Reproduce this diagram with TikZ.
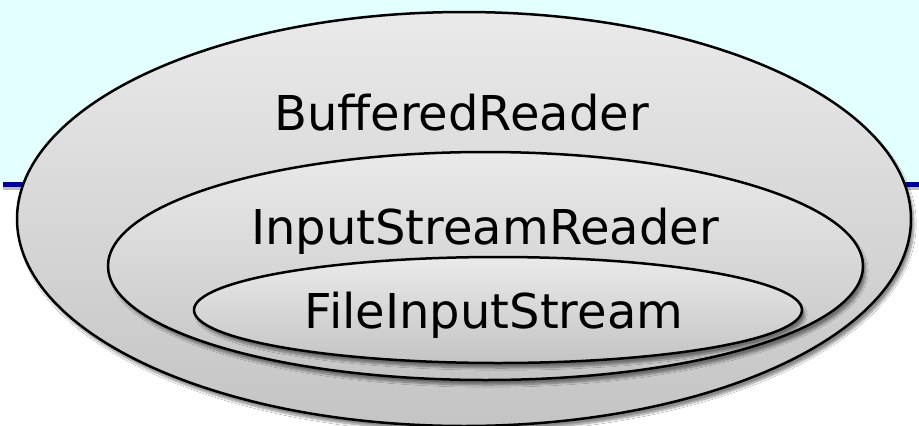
\documentclass[tikz,border=0pt]{standalone}
\usepackage{fontspec}
\setmainfont{DejaVu Sans}
\usetikzlibrary{shapes.geometric,shadows.blur}
\definecolor{bgcyan}{RGB}{228,255,255}
\definecolor{rulebl}{RGB}{0,0,150}
\definecolor{ellTop}{RGB}{234,234,234}
\definecolor{ellBot}{RGB}{196,196,196}
\tikzset{
  layer/.style={ellipse, draw=black, line width=2.5pt, inner sep=0pt,
    top color=ellTop, bottom color=ellBot,
    blur shadow={shadow xshift=3pt, shadow yshift=-5pt, shadow blur steps=8, shadow opacity=45}},
  lbl/.style={text=black, inner sep=0pt, anchor=base, font=\fontsize{48}{52}\selectfont}
}
\begin{document}
\begin{tikzpicture}[x=1pt,y=-1pt]
\useasboundingbox (0,0) rectangle (919,426);
\fill[white] (0,0) rectangle (919,426);
\fill[bgcyan] (0,0) rectangle (919,184);
\fill[black!25] (3,187) rectangle (919,190);
\fill[rulebl] (3,182) rectangle (919,187);
\node[layer, minimum width=894pt, minimum height=414pt] (outer) at (464,219) {};
\node[layer, minimum width=755pt, minimum height=228pt] (middle) at (485.5,266) {};
\node[layer, minimum width=608pt, minimum height=106pt] (inner) at (498,310) {};
\node[lbl] (tb) at (461.5,130) {BufferedReader};
\node[lbl] (tm) at (485,244) {InputStreamReader};
\node[lbl] (ti) at (494,328) {FileInputStream};
\end{tikzpicture}
\end{document}
